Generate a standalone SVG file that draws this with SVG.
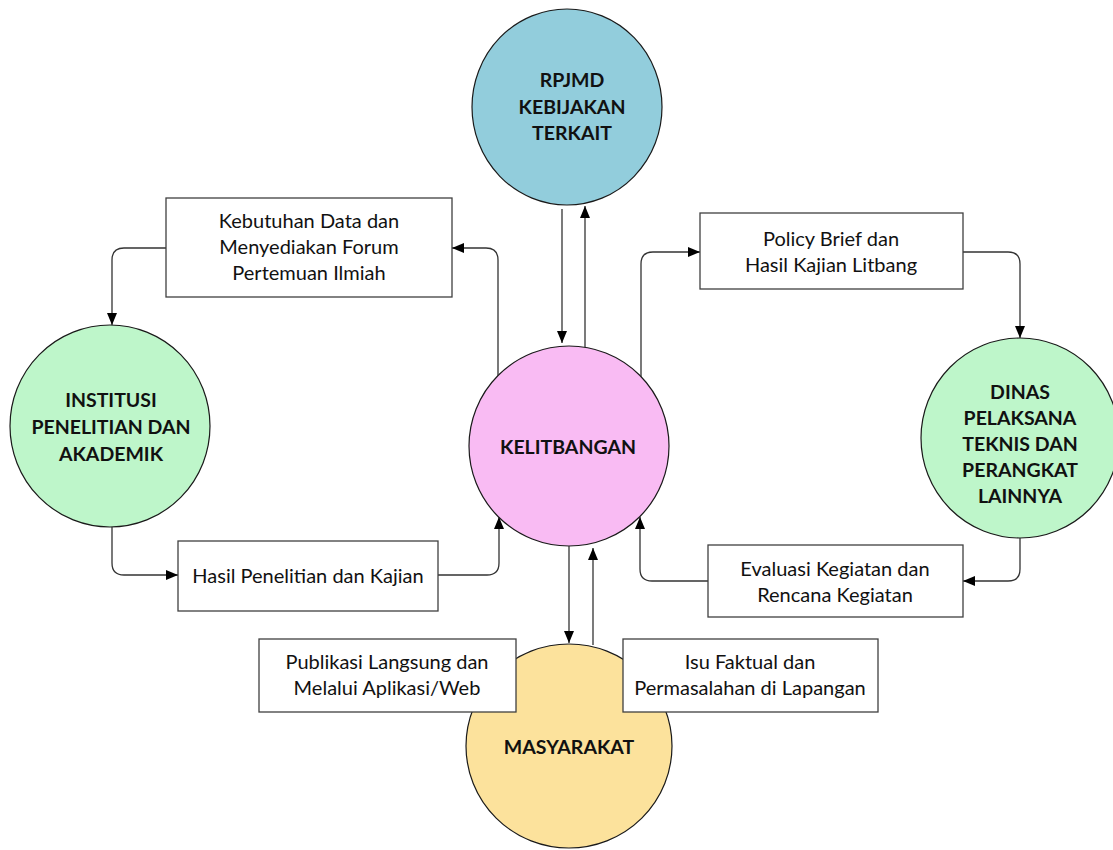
<svg xmlns="http://www.w3.org/2000/svg" width="1113" height="850" viewBox="0 0 1113 850">
  <style>
    .node-circle { stroke: #1a1a1a; stroke-width: 1.2; }
    .box { fill: #ffffff; stroke: #404040; stroke-width: 1.3; }
    .label { font-family: Lato, "Open Sans", sans-serif; font-weight: 700; font-size: 19.5px; fill: #111111; text-anchor: middle; }
    .box-text { font-family: Lato, "Open Sans", sans-serif; font-size: 20px; fill: #111111; text-anchor: middle; }
    .link { fill: none; stroke: #333333; stroke-width: 1.3; marker-end: url(#arrow); }
  </style>
  <defs>
    <marker id="arrow" markerUnits="userSpaceOnUse" markerWidth="12" markerHeight="10" refX="12" refY="5" orient="auto">
      <path d="M0,0 L12,5 L0,10 Z" fill="#000000"/>
    </marker>
  </defs>
  <rect width="1113" height="850" fill="#ffffff"/>

  <!-- nodes -->
  <g id="rpjmd">
    <ellipse class="node-circle" cx="567" cy="107" rx="95" ry="98" fill="#92CDDC"/>
    <text class="label" x="572" y="87">RPJMD</text>
    <text class="label" x="572" y="114">KEBIJAKAN</text>
    <text class="label" x="572" y="140">TERKAIT</text>
  </g>

  <g id="kelitbangan">
    <circle class="node-circle" cx="569" cy="446" r="100" fill="#F9BBF3"/>
    <text class="label" x="568" y="454">KELITBANGAN</text>
  </g>

  <g id="institusi">
    <ellipse class="node-circle" cx="110" cy="426" rx="100" ry="101" fill="#BEF6CA"/>
    <text class="label" x="111" y="407">INSTITUSI</text>
    <text class="label" x="111" y="434">PENELITIAN DAN</text>
    <text class="label" x="111" y="461">AKADEMIK</text>
  </g>

  <g id="dinas">
    <ellipse class="node-circle" cx="1020" cy="438" rx="99" ry="100" fill="#BEF6CA"/>
    <text class="label" x="1020" y="399">DINAS</text>
    <text class="label" x="1020" y="425">PELAKSANA</text>
    <text class="label" x="1020" y="451">TEKNIS DAN</text>
    <text class="label" x="1020" y="477">PERANGKAT</text>
    <text class="label" x="1020" y="503">LAINNYA</text>
  </g>

  <g id="masyarakat">
    <ellipse class="node-circle" cx="569" cy="746" rx="103" ry="102" fill="#FCE29C"/>
    <text class="label" x="569" y="754">MASYARAKAT</text>
  </g>

  <!-- connectors -->
  <g id="connectors">
    <path class="link" d="M562 209 V343"/>
    <path class="link" d="M585 347 V206"/>
    <path class="link" d="M498 376 V260 Q498 248 486 248 H452"/>
    <path class="link" d="M166 248 H124 Q112 248 112 260 V325"/>
    <path class="link" d="M112 527 V563 Q112 575 124 575 H178"/>
    <path class="link" d="M438 575 H487 Q499 575 499 563 V517"/>
    <path class="link" d="M641 377 V264 Q641 252 653 252 H700"/>
    <path class="link" d="M963 252 H1008 Q1020 252 1020 264 V338"/>
    <path class="link" d="M1020 538 V569 Q1020 581 1008 581 H963"/>
    <path class="link" d="M708 581 H652 Q640 581 640 569 V517"/>
    <path class="link" d="M569 546 V643"/>
    <path class="link" d="M593 645 V548"/>
  </g>

  <!-- flow label boxes -->
  <g id="box-kebutuhan">
    <rect class="box" x="166" y="198" width="286" height="99"/>
    <text class="box-text" x="309" y="228">Kebutuhan Data dan</text>
    <text class="box-text" x="309" y="254">Menyediakan Forum</text>
    <text class="box-text" x="309" y="280">Pertemuan Ilmiah</text>
  </g>

  <g id="box-policy">
    <rect class="box" x="700" y="213" width="263" height="76"/>
    <text class="box-text" x="831" y="246">Policy Brief dan</text>
    <text class="box-text" x="831" y="272">Hasil Kajian Litbang</text>
  </g>

  <g id="box-hasil">
    <rect class="box" x="178" y="541" width="260" height="70"/>
    <text class="box-text" x="308" y="583">Hasil Penelitian dan Kajian</text>
  </g>

  <g id="box-evaluasi">
    <rect class="box" x="708" y="545" width="255" height="72"/>
    <text class="box-text" x="835" y="576">Evaluasi Kegiatan dan</text>
    <text class="box-text" x="835" y="602">Rencana Kegiatan</text>
  </g>

  <g id="box-publikasi">
    <rect class="box" x="259" y="639" width="257" height="73"/>
    <text class="box-text" x="387" y="669">Publikasi Langsung dan</text>
    <text class="box-text" x="387" y="695">Melalui Aplikasi/Web</text>
  </g>

  <g id="box-isu">
    <rect class="box" x="623" y="639" width="255" height="73"/>
    <text class="box-text" x="750" y="669">Isu Faktual dan</text>
    <text class="box-text" x="750" y="695">Permasalahan di Lapangan</text>
  </g>
</svg>
